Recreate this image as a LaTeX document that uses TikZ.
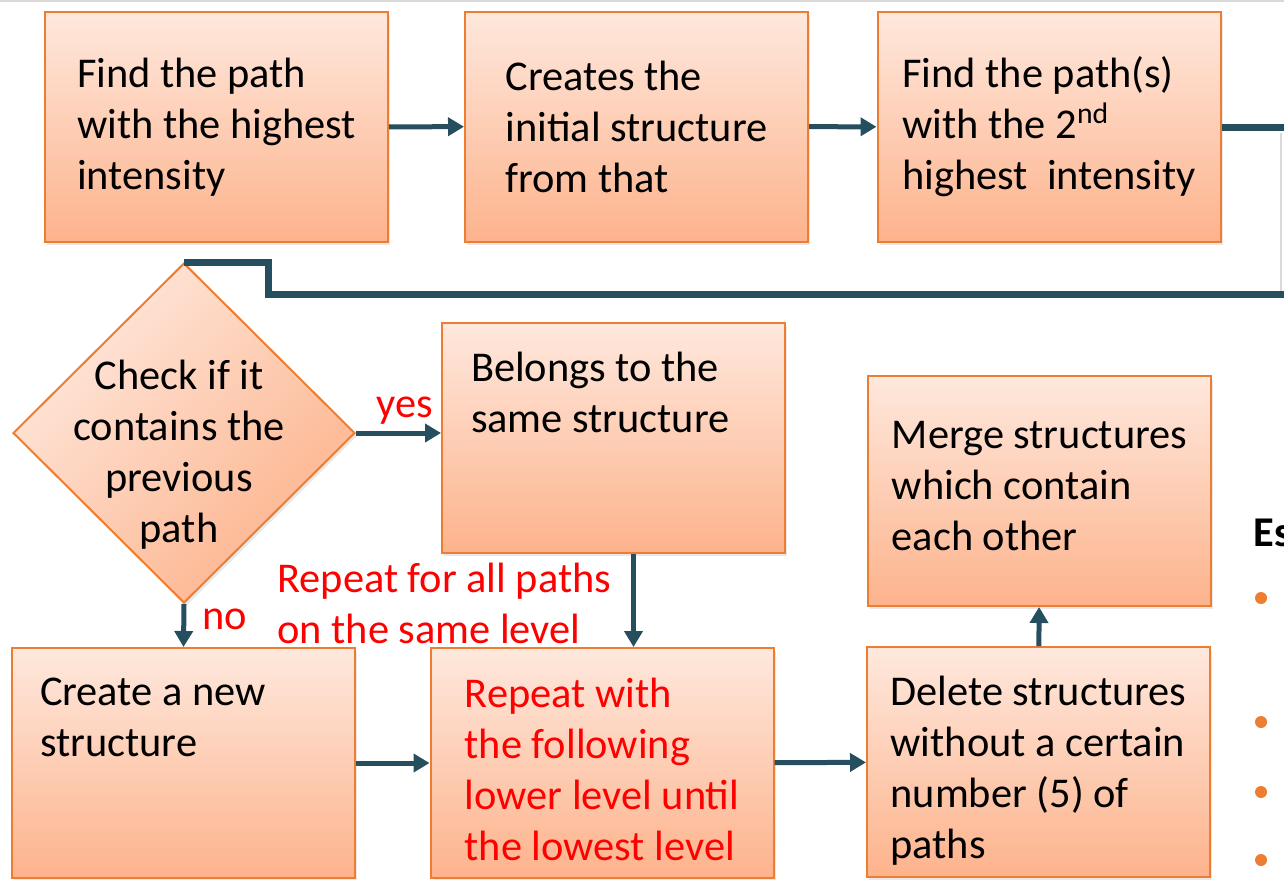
\documentclass[tikz,border=0pt]{standalone}
\usepackage{fontspec}
\setmainfont{Carlito}
\usetikzlibrary{arrows.meta,shapes.geometric,shadows}
\definecolor{boxline}{HTML}{ED7D31}
\definecolor{boxtop}{HTML}{FEE8DD}
\definecolor{boxbot}{HTML}{FDB38C}
\definecolor{linkcol}{HTML}{254F5E}

\begin{document}
\begin{tikzpicture}[x=0.5pt,y=-0.5pt,font=\fontsize{21.2}{25.5}\selectfont,
  box/.style={draw=boxline,line width=1pt,top color=boxtop,bottom color=boxbot,align=flush left,
    minimum width=171.5pt,minimum height=115pt,inner xsep=0pt,
    drop shadow={opacity=.18,shadow xshift=1.2pt,shadow yshift=-1.5pt}},
  decision/.style={diamond,draw=boxline,line width=1pt,top color=boxtop,bottom color=boxbot,
    shading angle=45,minimum width=171pt,minimum height=170pt,inner sep=0pt,
    drop shadow={opacity=.18,shadow xshift=1.2pt,shadow yshift=-1.5pt}},
  link/.style={draw=linkcol,line width=2.5pt,-{Triangle[length=8pt,width=9pt]}},
  back/.style={draw=linkcol,line width=3.5pt},
  note/.style={text=red,align=left,inner sep=0pt}]
\useasboundingbox (0,0) rectangle (1284,879);
\clip (0,0) rectangle (1284,879);
% slide frame
\draw[black!15,line width=1pt] (0,1) -- (1284,1);
\draw[black!15,line width=1pt] (1281,133) -- (1281,292);

% top row
\node[box] (find) at (216.5,127) {Find the path\\with the highest\\intensity};
\node[box] (init) at (636.5,126.5) {Creates the\\initial structure\\from that};
\node[box] (find2) at (1049,127) {Find the path(s)\\with the 2\textsuperscript{nd}\\highest~ intensity};

% decision and its branches
\node[decision] (check) at (184,433) {};
\node[align=center,inner sep=0pt] (checktxt) at (179,455) {Check if it\\contains the\\previous\\path};
\node[box,text width=142.5pt] (belongs) at (613.5,438) {Belongs to the\\same structure\\\strut\\[-13pt]\strut};
\node[box] (merge) at (1039.5,491) {Merge structures\\which contain\\each other\rule[-5pt]{0pt}{5pt}};

% bottom row
\node[box,text width=143.5pt] (create) at (183.5,763) {Create a new\\structure\\\strut\\[-13pt]\strut};
\node[box,text=red] (repeat) at (602,763) {\rule{0pt}{21pt}Repeat with\\the following\\lower level until\\the lowest level};
\node[box] (delete) at (1038.5,762) {\rule{0pt}{23pt}Delete structures\\without a certain\\number (5) of\\paths};

% labels
\node[note] (yes) at (405,411) {yes};
\node[note] (no) at (225,619) {no};
\node[note,anchor=west] (samelevel) at (277,603) {Repeat for all paths\\on the same level};

% side list
\node[anchor=west,inner sep=0pt,font=\bfseries\fontsize{21.2}{25.5}\selectfont] (heading) at (1253,533) {Es};
\foreach \y in {598,722,792,860}
  \fill[boxline] (1261,\y) circle (3pt);

% connectors
\coordinate (bend) at (268,294);
\draw[link] (find) -- (init);
\draw[link] (init) -- (find2);
\draw[back] (find2.east) -- (1300,127) |- (bend) |- (check.north);
\draw[link] (check.east) -- (check.east -| belongs.west);
\draw[link] (check.south) -- (create.north);
\draw[link] ([xshift=10pt]belongs.south) -- ([xshift=10pt]belongs.south |- repeat.north);
\draw[link] (create) -- (repeat);
\draw[link] (repeat) -- (delete);
\draw[link] (delete) -- (merge);
\end{tikzpicture}
\end{document}
